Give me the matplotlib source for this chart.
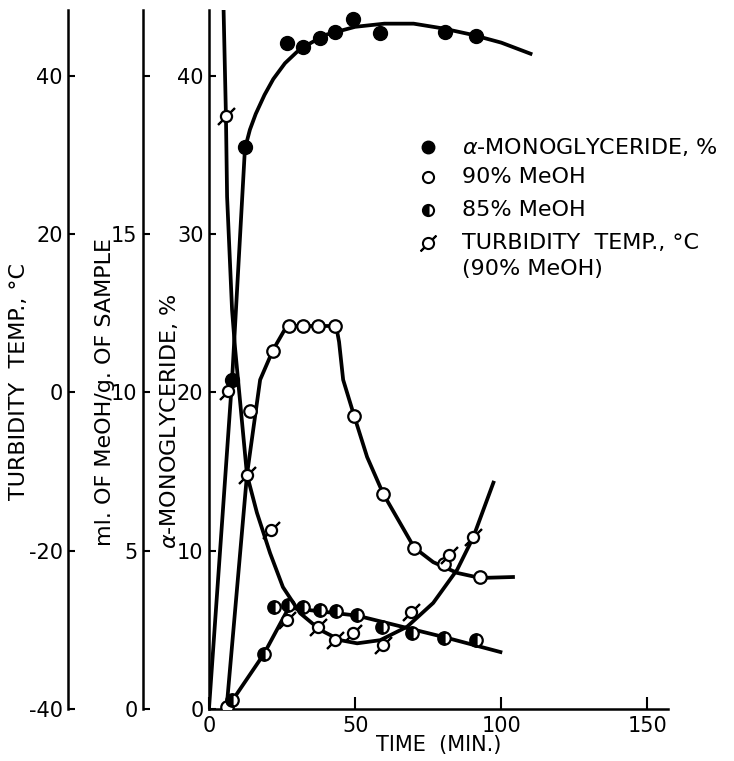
import matplotlib
matplotlib.use('Agg')
import matplotlib.pyplot as plt

plt.rcParams['font.family'] = 'DejaVu Sans'
plt.rcParams['axes.unicode_minus'] = False

##
## alpha-monoglyceride, % (filled circles)
##
mono_t = [7.9, 12.3, 26.7, 32.2, 38.0, 43.2, 49.3, 58.6, 80.8, 91.4]
mono_v = [20.8, 35.5, 42.1, 41.8, 42.4, 42.8, 43.6, 42.7, 42.8, 42.5]
mono_fit_t = [0, 7.9, 12.3, 14, 16, 19, 22, 26, 30, 35, 40, 50, 60, 70, 80, 90, 100, 110]
mono_fit_v = [0, 20.8, 35.4, 36.6, 37.6, 38.8, 39.8, 40.8, 41.5, 42.1, 42.6, 43.1, 43.3, 43.3, 43.0, 42.6, 42.1, 41.4]

##
## 90% MeOH, ml./g. (open circles)
##
m90_t = [6.2, 14.0, 21.9, 27.4, 32.2, 37.3, 43.2, 49.7, 59.6, 70.2, 80.5, 92.8]
m90_v = [0.06, 9.4, 11.3, 12.1, 12.1, 12.1, 12.1, 9.25, 6.8, 5.1, 4.58, 4.17]
m90_fit_t = [6.0, 13.0, 17.5, 21.9, 26.0, 28.0, 35.0, 43.5, 44.5, 45.9, 49.7, 54.1, 59.6, 65.4, 70.2, 76.7, 84.9, 92.8, 104.0]
m90_fit_v = [0.0, 7.4, 10.4, 11.34, 12.0, 12.1, 12.1, 12.1, 11.6, 10.4, 9.25, 7.96, 6.8, 5.87, 5.1, 4.64, 4.30, 4.14, 4.17]

##
## 85% MeOH, ml./g. (half-filled circles)
##
m85_t = [7.9, 18.8, 22.3, 27.1, 32.2, 38.0, 43.5, 50.7, 59.2, 69.5, 80.5, 91.4]
m85_v = [0.28, 1.74, 3.22, 3.28, 3.22, 3.13, 3.10, 2.97, 2.59, 2.40, 2.24, 2.18]
m85_fit_t = [7.5, 18.8, 27.3, 50.7, 80.5, 99.7]
m85_fit_v = [0.2, 1.74, 3.2, 2.95, 2.27, 1.80]

##
## turbidity temperature, deg C (90% MeOH)
##
turb_t = [5.8, 6.5, 13.0, 21.1, 26.7, 37.3, 43.2, 49.3, 59.6, 69.2, 82.2, 90.4]
turb_v = [34.9, 0.2, -10.4, -17.4, -28.8, -29.6, -31.3, -30.4, -31.9, -27.7, -20.5, -18.3]
turb_fit_t = [5.0, 5.8, 6.2, 7.9, 8.9, 13.0, 16.4, 20.9, 25.3, 31.2, 38.0, 44.9, 50.7, 58.6, 67.8, 76.7, 84.9, 90.4, 93.8, 97.3]
turb_fit_v = [48.3, 35.0, 24.7, 10.4, 5.7, -10.4, -15.2, -20.3, -24.6, -27.9, -30.0, -31.3, -31.7, -31.3, -29.6, -26.6, -22.4, -18.3, -14.9, -11.4]

## axis ticks
time_ticks = [0, 50, 100, 150]
mono_ticks = [0, 10, 20, 30, 40]
ml_ticks = [0, 5, 10, 15, 20]
ml_ticklabels = ['0', '5', '10', '15', '']
turb_ticks = [-40, -20, 0, 20, 40]

fontsize = 15
labelsize = 16
lw = 2.7
spine_lw = 1.8

fig = plt.figure(figsize=(7.34, 7.61), dpi=100)
ax = fig.add_axes([0.2847, 0.0683, 0.6253, 0.9185])
ax_ml = ax.twinx()
ax_tt = ax.twinx()

ax.set_xlim(0, 157)
ax.set_ylim(0, 44.16)
ax_ml.set_ylim(0, 22.08)
ax_tt.set_ylim(-40, 48.3)

## spines: three left-hand axes, bottom time axis
for a in (ax, ax_ml, ax_tt):
    for s in ('top', 'right', 'bottom'):
        a.spines[s].set_visible(False)
    a.spines['left'].set_linewidth(spine_lw)
ax.spines['bottom'].set_visible(True)
ax.spines['bottom'].set_linewidth(spine_lw)

for a, pos in ((ax_ml, -0.1438), (ax_tt, -0.307)):
    a.spines['left'].set_visible(True)
    a.spines['left'].set_position(('axes', pos))
    a.yaxis.set_ticks_position('left')
    a.yaxis.set_label_position('left')

ax.set_xticks(time_ticks)
ax.set_yticks(mono_ticks)
ax_ml.set_yticks(ml_ticks)
ax_ml.set_yticklabels(ml_ticklabels)
ax_tt.set_yticks(turb_ticks)

ax.tick_params(axis='x', direction='in', length=9, width=1.5, labelsize=fontsize, pad=5)
for a in (ax, ax_ml, ax_tt):
    a.tick_params(axis='y', direction='in', length=5, width=1.5, labelsize=fontsize, pad=4)

## fitted curves
ax.plot(mono_fit_t, mono_fit_v, color='k', lw=lw)
ax_ml.plot(m90_fit_t, m90_fit_v, color='k', lw=lw)
ax_ml.plot(m85_fit_t, m85_fit_v, color='k', lw=lw)
ax_tt.plot(turb_fit_t, turb_fit_v, color='k', lw=lw)

## data points
ax.plot(mono_t, mono_v, 'o', color='k', ms=10, zorder=5)
ax_ml.plot(m90_t, m90_v, 'o', mfc='w', mec='k', ms=9, mew=1.6, zorder=5)
ax_ml.plot(m85_t, m85_v, 'o', fillstyle='left', mfc='k', mfcalt='w', mec='k', ms=9, mew=1.6, zorder=5)
ax_tt.plot(turb_t, turb_v, ls='none', marker=(2, 2, -45), color='k', ms=17, mew=1.5, zorder=5)
ax_tt.plot(turb_t, turb_v, 'o', mfc='w', mec='k', ms=8, mew=1.6, zorder=6)

## key
kx, tx = 0.477, 0.551
rows = [0.804, 0.761, 0.714, 0.667, 0.629]
ax.plot([kx], [rows[0]], 'o', color='k', ms=9, transform=ax.transAxes, clip_on=False)
ax.plot([kx], [rows[1]], 'o', mfc='w', mec='k', ms=8, mew=1.5, transform=ax.transAxes, clip_on=False)
ax.plot([kx], [rows[2]], 'o', fillstyle='left', mfc='k', mfcalt='w', mec='k', ms=8, mew=1.5,
        transform=ax.transAxes, clip_on=False)
ax.plot([kx], [rows[3]], ls='none', marker=(2, 2, -45), color='k', ms=16, mew=1.5,
        transform=ax.transAxes, clip_on=False)
ax.plot([kx], [rows[3]], 'o', mfc='w', mec='k', ms=8, mew=1.5, transform=ax.transAxes, clip_on=False)
key_text = [r'$\alpha$-MONOGLYCERIDE, %', '90% MeOH', '85% MeOH', 'TURBIDITY  TEMP., °C', '(90% MeOH)']
for y, s in zip(rows, key_text):
    ax.text(tx, y, s, transform=ax.transAxes, fontsize=labelsize, va='center', ha='left')

## axis titles
ax.text(0.5, -0.052, 'TIME  (MIN.)', transform=ax.transAxes, fontsize=fontsize, ha='center', va='center')
ax.text(-0.414, 0.469, 'TURBIDITY  TEMP., °C', transform=ax.transAxes, fontsize=labelsize,
        rotation=90, ha='center', va='center')
ax.text(-0.2266, 0.4535, 'ml. OF MeOH/g. OF SAMPLE', transform=ax.transAxes, fontsize=labelsize,
        rotation=90, ha='center', va='center')
ax.text(-0.0871, 0.412, r'$\alpha$-MONOGLYCERIDE, %', transform=ax.transAxes, fontsize=labelsize,
        rotation=90, ha='center', va='center')

plt.savefig('out.png', dpi=100)
